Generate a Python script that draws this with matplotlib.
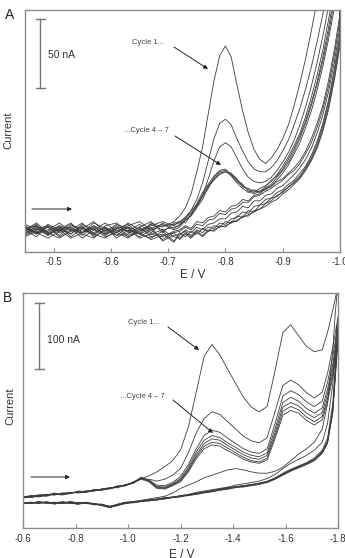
import matplotlib
matplotlib.use("Agg")
import matplotlib.pyplot as plt
from matplotlib.lines import Line2D

plt.rcParams["font.family"] = ["Liberation Sans", "DejaVu Sans"]

# ---- panel A: potential grid (V) and currents (nA), forward / return scans
E_a = [-0.45, -0.47, -0.49, -0.51, -0.53, -0.55, -0.57, -0.59, -0.61, -0.63, -0.65, -0.67, -0.69, -0.71,
       -0.72, -0.73, -0.74, -0.75, -0.76, -0.77, -0.78, -0.79, -0.80, -0.81, -0.82, -0.83, -0.84, -0.85,
       -0.86, -0.87, -0.88, -0.89, -0.90, -0.91, -0.92, -0.93, -0.94, -0.95, -0.96, -0.97, -0.98, -0.99, -1.00]

fwd_a1 = [2, -3, 4, 0, 5, -2, 3, -1, 4, 1, -3, 5, 2, 6,
          10, 16, 26, 42, 60, 84, 108, 126, 133, 125, 105, 86, 70, 58, 51,
          48, 52, 58, 66, 76, 90, 106, 124, 144, 166, 190, 215, 240, 265]
fwd_a2 = [-1, 4, -4, 3, 0, 5, -3, 2, -2, 5, 0, 3, 6, 3,
          6, 9, 14, 22, 34, 50, 66, 77, 80, 76, 66, 57, 49, 44, 42,
          42, 45, 50, 57, 65, 76, 88, 102, 118, 136, 156, 178, 202, 228]
fwd_a3 = [4, 0, 2, -4, 3, 1, 6, -2, 3, -1, 4, -2, 5, 1,
          4, 7, 11, 17, 25, 37, 50, 60, 63, 60, 52, 44, 38, 35, 34,
          35, 38, 43, 49, 56, 65, 76, 89, 104, 121, 140, 162, 186, 212]
fwd_a4 = [0, 5, -2, 2, -3, 4, 0, 5, -1, 3, 6, 0, 3, 4,
          5, 9, 12, 19, 27, 33, 39, 43, 44, 40, 35, 32, 29, 27, 30,
          32, 35, 40, 46, 53, 61, 70, 82, 96, 112, 130, 152, 176, 202]
fwd_a5 = [-3, 1, 3, -1, 4, -2, 5, 1, -4, 2, -1, 4, 0, 2,
          3, 8, 14, 18, 25, 32, 37, 41, 42, 41, 37, 31, 30, 28, 28,
          31, 36, 39, 44, 51, 59, 68, 79, 92, 107, 125, 146, 170, 196]
fwd_a6 = [3, -2, 0, 5, -1, 2, -4, 3, 5, -2, 2, 6, -2, 5,
          6, 5, 11, 17, 24, 30, 38, 42, 43, 39, 34, 30, 27, 29, 27,
          30, 33, 38, 43, 49, 57, 66, 77, 90, 105, 122, 142, 165, 190]
fwd_a7 = [1, 3, -3, 1, 2, -4, 2, -3, 1, 4, -3, 1, 4, 0,
          2, 7, 10, 16, 22, 31, 36, 40, 42, 40, 36, 33, 28, 26, 28,
          29, 32, 36, 41, 47, 55, 63, 74, 86, 101, 118, 138, 160, 185]

ret_a1 = [-2, 2, -4, 1, -3, 3, -5, 0, -2, -6, 1, -3, -5, -1,
          0, 3, 1, 6, 5, 9, 10, 14, 13, 17, 18, 22, 21, 25, 26,
          30, 31, 35, 37, 41, 45, 50, 57, 66, 77, 90, 108, 130, 156]
ret_a2 = [1, -3, 2, -5, 0, -2, 3, -4, 1, -1, -5, 0, -7, -2,
          -1, 2, 0, 4, 3, 7, 8, 12, 11, 15, 16, 20, 20, 24, 25,
          28, 30, 33, 36, 40, 43, 48, 55, 63, 74, 87, 104, 126, 152]
ret_a3 = [-4, 0, -1, 3, -5, 1, -2, 2, -6, 0, -3, -6, -1, -8,
          -4, 0, -2, 2, 0, 4, 5, 8, 8, 12, 13, 17, 16, 21, 21,
          25, 26, 30, 32, 36, 40, 45, 51, 59, 70, 83, 100, 121, 147]
ret_a4 = [0, -5, 3, -2, 1, -6, 0, -3, 2, -4, -1, 2, -8, -4,
          -3, -1, -4, 0, -2, 2, 1, 5, 4, 8, 9, 13, 12, 17, 18,
          22, 23, 27, 29, 33, 36, 41, 46, 54, 64, 77, 94, 116, 142]
ret_a5 = [-5, -1, -3, 0, -6, -2, 1, -5, -2, 2, -6, -3, 0, -5,
          -6, -2, -5, -1, -4, 0, -1, 3, 2, 6, 6, 10, 10, 14, 15,
          19, 21, 25, 27, 31, 35, 39, 45, 52, 62, 75, 92, 113, 139]
ret_a6 = [2, -2, -6, -1, 2, -3, -6, 1, -4, -3, 2, -5, -3, -9,
          -2, -5, -1, -3, 1, -1, 3, 2, 6, 5, 10, 9, 14, 13, 18,
          19, 23, 24, 28, 31, 34, 38, 44, 51, 60, 73, 89, 110, 136]
ret_a7 = [-3, 3, -2, -6, -1, 0, -3, -6, 0, -5, -2, -7, -4, -2,
          -7, -3, -6, -2, -5, -1, 0, 2, 3, 5, 7, 9, 11, 13, 15,
          17, 20, 22, 26, 29, 33, 37, 43, 50, 59, 71, 87, 108, 133]

# ---- panel B
E_b = [-0.60, -0.63, -0.66, -0.69, -0.72, -0.75, -0.78, -0.81, -0.84, -0.87, -0.90, -0.93, -0.96, -0.99,
       -1.02, -1.05, -1.08, -1.11, -1.14, -1.17, -1.20, -1.23, -1.26, -1.29, -1.32, -1.35, -1.38, -1.41,
       -1.44, -1.47, -1.50, -1.53, -1.56, -1.59, -1.62, -1.65, -1.68, -1.71, -1.74, -1.76, -1.78, -1.79, -1.80]

fwd_b1 = [8, 10, 9, 12, 13, 12, 15, 17, 16, 19, 20, 22, 24, 27, 31, 37, 41, 47, 55, 64, 80, 115, 168, 222,
          240, 224, 202, 181, 160, 145, 138, 146, 200, 258, 270, 253, 237, 229, 232, 258, 292, 310, 330]
fwd_b2 = [10, 8, 11, 10, 14, 13, 14, 18, 17, 18, 21, 21, 25, 26, 32, 36, 36, 33, 36, 42, 52, 76, 106, 128,
          138, 134, 123, 112, 101, 94, 91, 99, 138, 178, 186, 179, 167, 159, 168, 196, 236, 258, 282]
fwd_b3 = [9, 11, 10, 13, 12, 15, 15, 16, 18, 19, 20, 23, 24, 27, 30, 38, 35, 27, 26, 31, 40, 58, 82, 102,
          110, 107, 98, 90, 82, 77, 75, 82, 120, 162, 170, 164, 153, 146, 154, 182, 222, 246, 270]
fwd_b4 = [7, 10, 12, 11, 14, 13, 16, 15, 17, 20, 19, 22, 25, 26, 31, 39, 33, 25, 24, 29, 37, 54, 77, 95,
          102, 99, 91, 84, 77, 72, 70, 76, 112, 152, 160, 154, 143, 136, 144, 172, 210, 236, 262]
fwd_b5 = [10, 9, 12, 13, 12, 15, 14, 17, 16, 19, 21, 22, 24, 28, 30, 37, 34, 24, 23, 28, 35, 51, 73, 90,
          97, 95, 87, 80, 73, 68, 66, 72, 106, 145, 152, 147, 136, 129, 137, 165, 203, 228, 255]
fwd_b6 = [8, 11, 10, 12, 15, 13, 15, 17, 18, 18, 21, 23, 23, 27, 31, 38, 33, 23, 22, 27, 34, 49, 70, 86,
          92, 90, 83, 76, 69, 64, 62, 68, 101, 139, 146, 141, 130, 123, 131, 158, 196, 222, 250]
fwd_b7 = [9, 8, 11, 12, 13, 14, 16, 16, 17, 20, 20, 22, 26, 26, 30, 36, 32, 22, 21, 26, 32, 47, 67, 82,
          88, 86, 79, 73, 66, 62, 60, 65, 97, 133, 140, 136, 125, 118, 126, 152, 190, 215, 245]

ret_b1 = [-1, 1, 0, 2, -1, 1, 0, -2, 1, -1, -4, -7, -2, 1, 2, 4, 6, 8, 10, 15, 22, 27, 32, 38,
          42, 46, 50, 52, 50, 47, 45, 45, 48, 54, 64, 74, 82, 92, 112, 150, 230, 290, 330]
ret_b2 = [1, -1, 2, 0, 1, -1, 2, 0, -1, -2, -2, -5, -3, 0, 2, 3, 5, 6, 8, 9, 11, 13, 16, 18,
          20, 22, 24, 27, 29, 31, 33, 37, 43, 52, 60, 66, 72, 80, 92, 120, 180, 240, 282]
ret_b3 = [0, 1, -1, 1, 0, 2, 0, -1, 1, -3, -2, -6, -4, -1, 1, 2, 4, 5, 7, 9, 10, 12, 14, 16,
          18, 21, 23, 25, 26, 28, 30, 33, 38, 45, 51, 56, 61, 68, 80, 98, 150, 210, 270]
ret_b4 = [-1, 0, 1, -1, 1, 0, -1, 1, 0, -2, -4, -7, -3, 0, 0, 3, 3, 5, 6, 8, 10, 11, 13, 15,
          17, 19, 21, 23, 25, 26, 28, 31, 36, 42, 48, 53, 58, 64, 75, 90, 140, 200, 262]
ret_b5 = [1, -1, 0, 1, -2, 1, 1, -1, -1, -1, -3, -5, -2, 1, 1, 2, 4, 4, 7, 8, 9, 12, 13, 16,
          17, 20, 21, 24, 24, 27, 29, 31, 36, 43, 49, 54, 59, 65, 76, 92, 138, 195, 255]
ret_b6 = [0, 0, 2, 0, -1, -1, 2, 0, 1, -2, -2, -7, -4, 0, 2, 3, 3, 6, 6, 9, 10, 12, 15, 16,
          19, 20, 22, 24, 26, 27, 30, 32, 37, 44, 50, 55, 60, 66, 78, 94, 142, 198, 250]
ret_b7 = [-1, 1, 0, 1, 0, 0, 0, -2, 0, -1, -3, -6, -3, -1, 1, 2, 5, 5, 8, 8, 11, 12, 14, 17,
          18, 21, 23, 24, 26, 28, 29, 32, 37, 43, 50, 55, 60, 66, 77, 91, 136, 190, 245]

ticks_a = [-0.5, -0.6, -0.7, -0.8, -0.9, -1.0]
ticks_b = [-0.6, -0.8, -1.0, -1.2, -1.4, -1.6, -1.8]

W, H = 345, 558
LINE = "#3c3c3c"
FRAME = "#8c8c8c"


def fxy(x, y):
    # pixel position (top-left origin) -> figure fraction
    return (x / W, 1 - y / H)


fig = plt.figure(figsize=(W / 100, H / 100), dpi=100)
ax_a = fig.add_axes([25 / W, 1 - 252 / H, 315 / W, 242 / H])
ax_b = fig.add_axes([23 / W, 1 - 528 / H, 315 / W, 235 / H])

fwd_a = [fwd_a1, fwd_a2, fwd_a3, fwd_a4, fwd_a5, fwd_a6, fwd_a7]
ret_a = [ret_a1, ret_a2, ret_a3, ret_a4, ret_a5, ret_a6, ret_a7]
for f, r in zip(fwd_a, ret_a):
    ax_a.plot(E_a + E_a[::-1], f + r[::-1], color=LINE, lw=0.6)

fwd_b = [fwd_b1, fwd_b2, fwd_b3, fwd_b4, fwd_b5, fwd_b6, fwd_b7]
ret_b = [ret_b1, ret_b2, ret_b3, ret_b4, ret_b5, ret_b6, ret_b7]
for f, r in zip(fwd_b, ret_b):
    ax_b.plot(E_b + E_b[::-1], f + r[::-1], color=LINE, lw=0.6)

ax_a.set_xlim(-0.45, -1.0)
ax_a.set_ylim(-16, 159)
ax_b.set_xlim(-0.6, -1.8)
ax_b.set_ylim(-38, 318)

for ax, ticks, pad in [(ax_a, ticks_a, 3.5), (ax_b, ticks_b, 4.5)]:
    ax.set_xticks(ticks)
    ax.set_xticklabels(["%.1f" % t for t in ticks])
    ax.set_yticks([])
    ax.tick_params(axis="x", direction="in", length=3, width=0.8, color=FRAME,
                   labelsize=7, labelcolor="#333333", pad=pad)
    for s in ax.spines.values():
        s.set_color(FRAME)
        s.set_linewidth(1.0)
    ax.set_xlabel("E / V", fontsize=8.5, color="#333333", va="top")
    ax.set_ylabel("Current", fontsize=8, color="#333333", va="center")

ax_a.xaxis.set_label_coords((193 - 25) / 315, -(269 - 252) / 242)
ax_a.yaxis.set_label_coords((8 - 25) / 315, (252 - 130) / 242)
ax_b.xaxis.set_label_coords((182 - 23) / 315, -(549 - 528) / 235)
ax_b.yaxis.set_label_coords((10 - 23) / 315, (528 - 406) / 235)

fig.text(*fxy(10, 15), "A", fontsize=10, color="#222222", ha="center", va="center")
fig.text(*fxy(8, 298), "B", fontsize=10, color="#222222", ha="center", va="center")

# scale bars
for x, y1, y2, label, ty in [(40, 19, 88, "50 nA", 55), (39, 303, 369, "100 nA", 340)]:
    for xs, ys in [([x, x], [y1, y2]), ([x - 4.5, x + 4.5], [y1, y1]), ([x - 4.5, x + 4.5], [y2, y2])]:
        p = [fxy(a, b) for a, b in zip(xs, ys)]
        fig.add_artist(Line2D([p[0][0], p[1][0]], [p[0][1], p[1][1]], color="#777777",
                              lw=1.0, transform=fig.transFigure))
    fig.text(*fxy(x + 8, ty), label, fontsize=7.5, color="#333333", ha="left", va="center")

arrow_kw = dict(arrowstyle="-|>", color="#222222", lw=0.7, mutation_scale=6, shrinkA=0, shrinkB=0)

# scan direction arrows
for (x1, x2, y) in [(32, 72, 209), (31, 70, 477)]:
    fig.add_artist(matplotlib.patches.FancyArrowPatch(fxy(x1, y), fxy(x2, y),
                                                      transform=fig.transFigure, **arrow_kw))

# cycle annotations
notes = [("Cycle 1...", (148, 43), (174, 47), (208, 69)),
         ("...Cycle 4 \u2013 7", (146, 130), (175, 136), (221, 165)),
         ("Cycle 1...", (144, 322), (168, 327), (199, 350)),
         ("...Cycle 4 \u2013 7", (142, 397), (173, 400), (213, 433))]
for text, tpos, a0, a1 in notes:
    fig.text(*fxy(*tpos), text, fontsize=5.5, color="#444444", ha="center", va="center")
    fig.add_artist(matplotlib.patches.FancyArrowPatch(fxy(*a0), fxy(*a1),
                                                      transform=fig.transFigure, **arrow_kw))

fig.savefig("out.png", dpi=100)
